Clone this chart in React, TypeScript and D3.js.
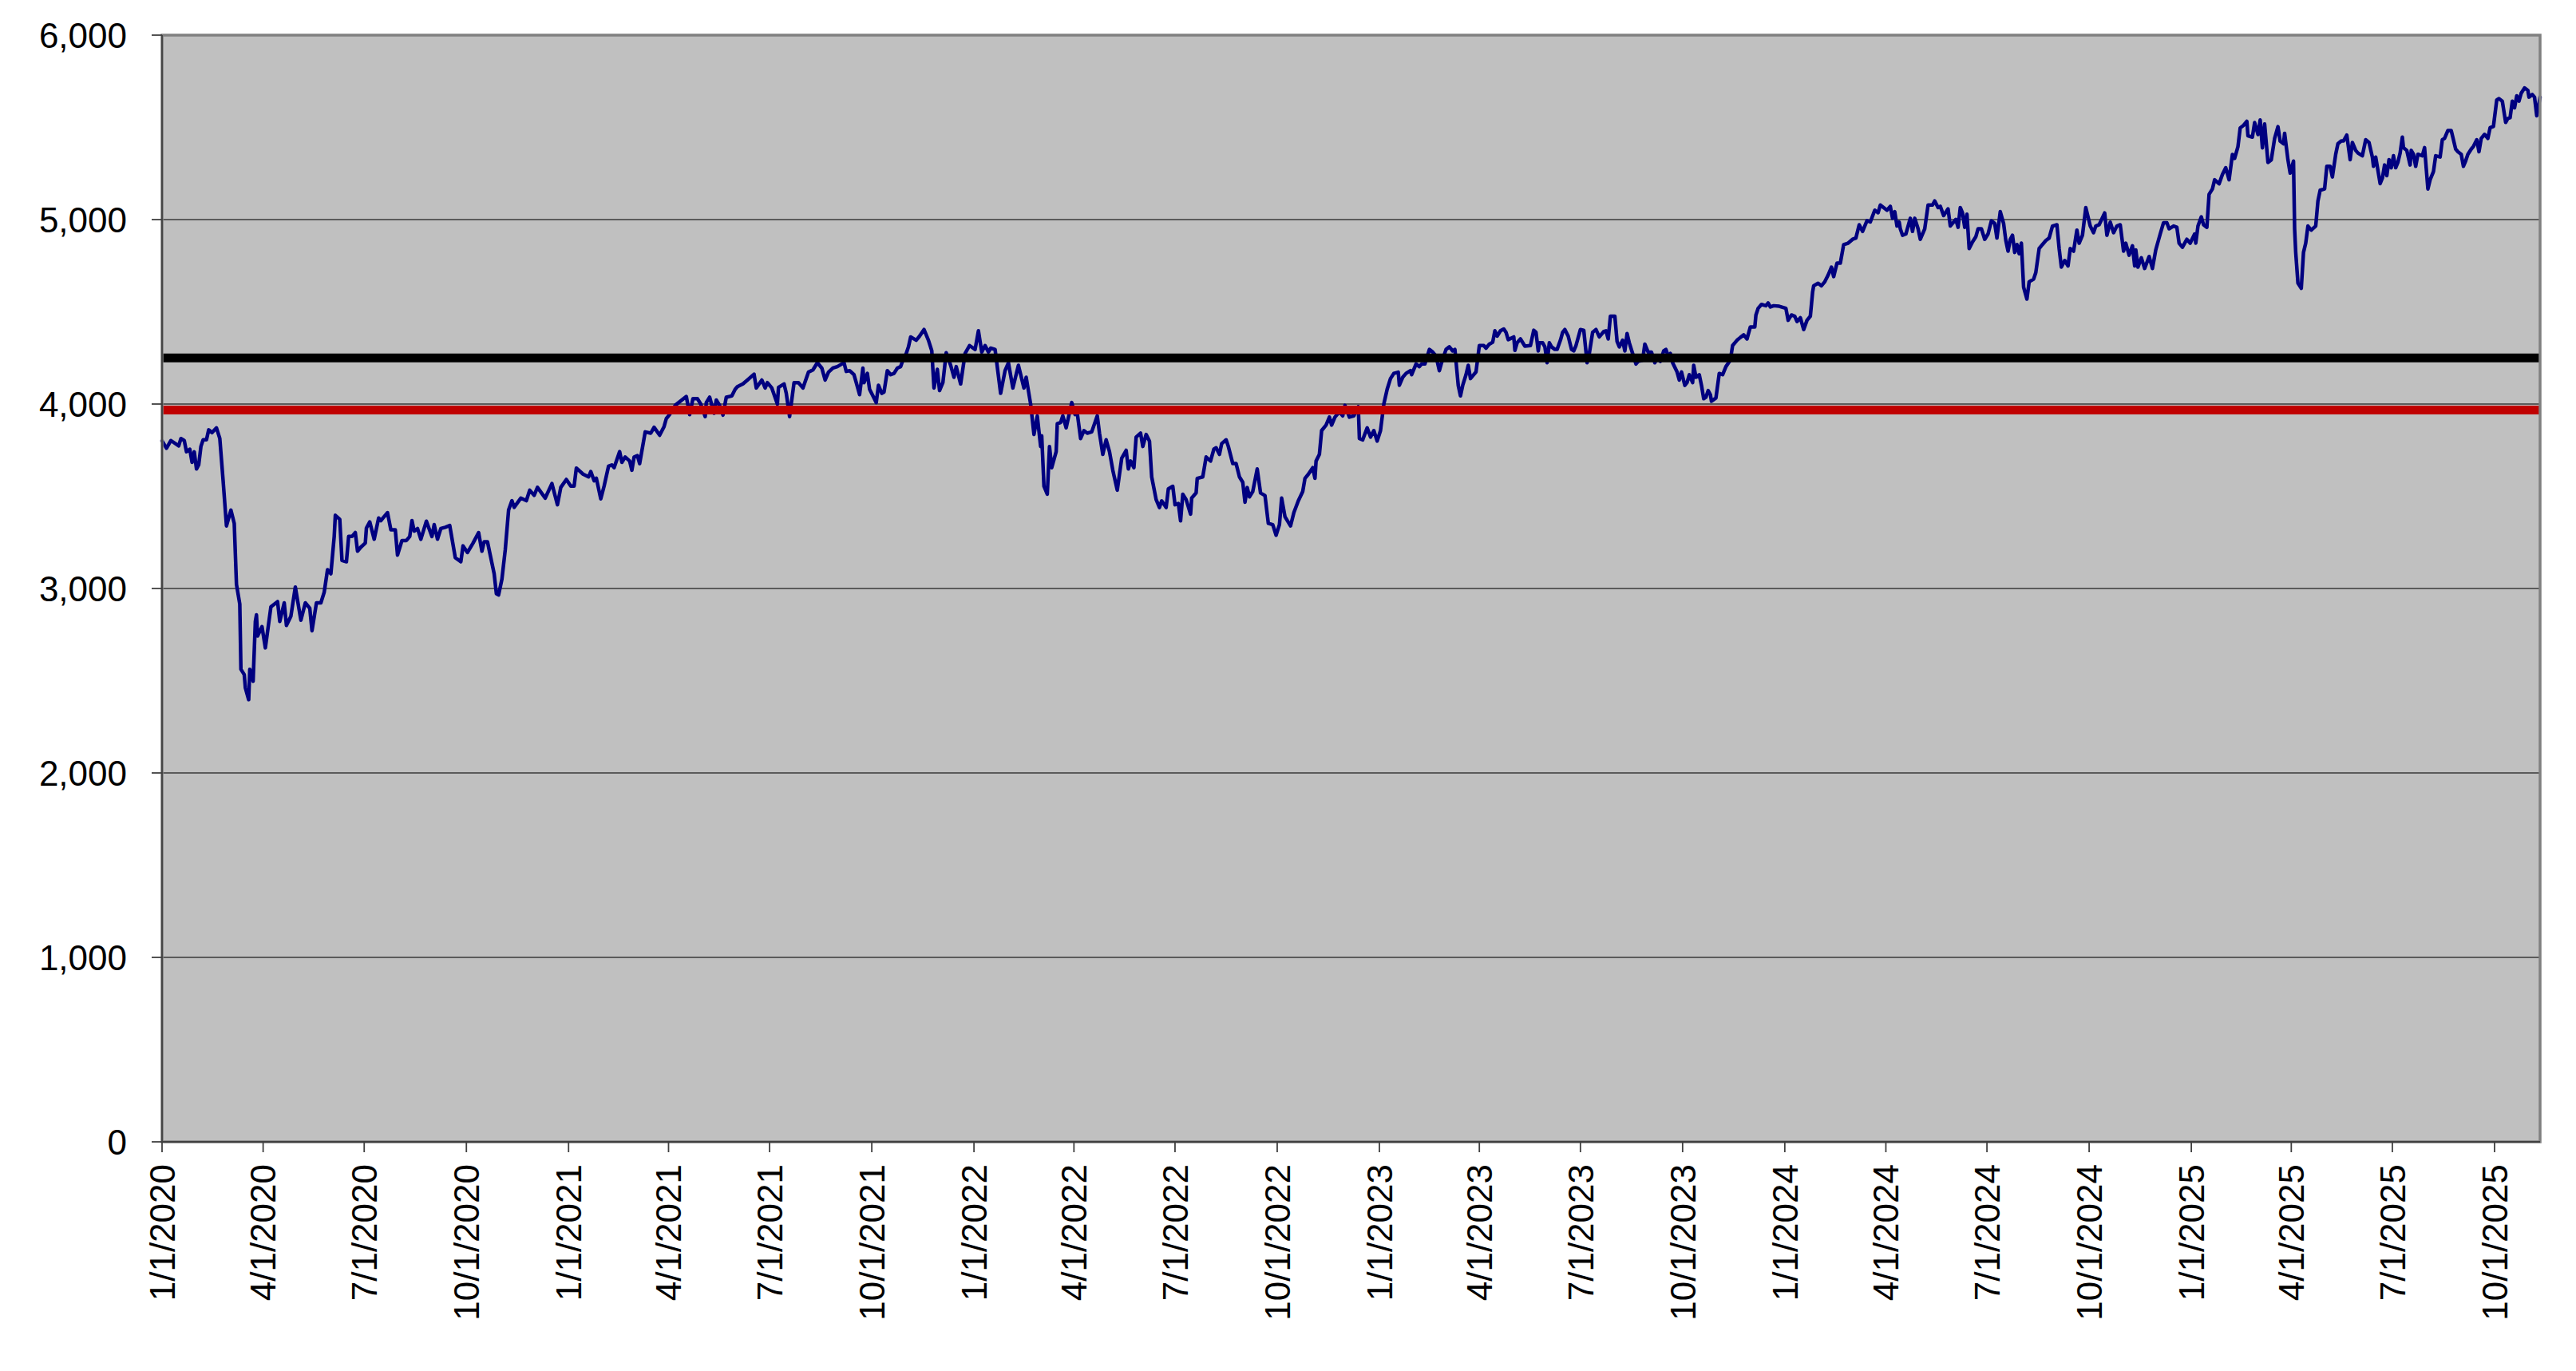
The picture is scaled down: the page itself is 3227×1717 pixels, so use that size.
import React from "react";
import * as d3 from "d3";

// Day offsets from 1/1/2020 for each observation, and the index values
const DAY_OFFSETS: number[] = [
  0,4,8,15,17,20,22,25,27,29,
  31,33,35,37,40,42,45,49,52,55,
  58,62,65,67,70,71,74,75,78,79,
  82,84,85,86,90,93,98,104,106,110,
  112,116,120,125,129,133,135,139,143,146,
  149,152,155,156,160,162,166,168,171,174,
  176,179,183,184,187,191,195,197,200,203,
  206,210,212,216,220,223,225,227,230,233,
  238,243,245,248,251,255,259,264,269,271,
  275,280,285,288,290,293,295,299,301,303,
  306,309,312,315,317,323,328,331,335,338,
  345,351,356,359,364,368,371,373,379,
  384,386,389,391,395,398,402,405,407,412,
  414,417,421,423,425,428,430,435,440,443,
  448,452,454,457,462,472,475,478,482,485,
  489,490,493,497,499,502,505,508,513,516,
  518,523,527,533,535,540,543,545,549,554,
  555,560,562,565,569,573,577,582,586,590,
  594,597,600,604,608,612,614,616,619,623,
  625,628,631,632,635,637,640,643,645,648,
  650,653,656,659,662,665,667,670,672,674,
  679,682,686,690,693,695,698,700,703,706,
  710,713,715,719,723,727,732,735,738,741,
  744,746,750,755,759,762,766,771,
  776,778,782,785,788,791,792,794,797,799,
  801,805,806,809,811,814,819,822,824,827,
  830,833,837,842,844,847,850,853,856,860,
  862,864,868,870,872,875,877,881,883,886,
  889,891,895,898,900,904,906,910,912,915,
  917,919,922,926,927,931,932,937,940,944,
  947,949,952,954,958,960,964,967,970,973,
  975,977,979,982,986,989,993,996,1000,1003,
  1006,1008,1011,1016,1019,1023,1027,1029,1032,1036,
  1038,1039,1042,1044,1048,1051,1053,1056,1060,1063,
  1065,1069,1073,1077,1078,1081,1085,1088,1091,1094,
  1097,1100,1103,1106,1109,1113,1114,1117,1120,1124,
  1125,1129,1132,1134,1137,1141,1144,1147,1150,1152,
  1156,
  1159,1162,1164,1167,1169,1171,1174,1176,1178,1183,
  1186,1190,1192,1195,1198,1200,1202,1205,1208,1210,
  1212,1217,1218,1220,1223,1227,1232,1235,1237,1239,
  1240,1243,1245,1247,1249,1251,1254,1256,1259,1261,
  1263,1266,1269,1271,1273,1277,1280,1283,1285,1288,
  1291,1294,1298,1300,1302,1304,1308,1310,1312,1315,
  1317,1319,1321,1324,1327,1329,1333,1335,1338,1341,
  1344,1347,1349,1352,1354,1356,1358,1360,1364,1366,
  1368,1371,1373,1375,1378,1379,1381,1384,1386,1388,
  1390,1392,1394,1395,1399,1402,1405,1408,1412,1414,
  1418,1421,1424,1427,1430,1434,1435,1437,1440,1444,
  1446,1448,1451,1456,1462,1464,1467,1470,1472,1475,
  1478,1481,1484,1486,1487,1491,1494,1497,1500,1503,
  1505,1508,1511,1514,1518,1522,1525,1528,1531,1535,
  1538,1542,1545,
  1547,1550,1553,1556,1558,1560,1562,1564,1565,1567,
  1570,1574,1576,1578,1581,1583,1587,1590,1594,1596,
  1599,1601,1604,1608,1610,1615,1617,1619,1621,1623,
  1625,1627,1630,1633,1635,1638,1641,1644,1647,1650,
  1652,1655,1658,1660,1662,1664,1666,1668,1670,1672,
  1674,1676,1679,1681,1685,1687,1690,1693,1696,1699,
  1702,1706,1708,1710,1713,1716,1718,1721,1724,1726,
  1729,1732,1736,1739,1741,1744,1749,1751,1754,1757,
  1760,1763,1766,1768,1771,1774,1776,1777,1779,1782,
  1785,1789,1792,1795,1799,1802,1805,1807,1811,1814,
  1816,1819,1823,1826,1830,1831,1833,1836,1838,1841,
  1843,1846,1848,1852,1855,1858,1861,1864,1866,1869,
  1871,1874,1877,1878,1882,1884,1887,1889,1891,1893,
  1896,1899,1902,1905,1907,1910,1911,1914,1916,1919,
  1920,1921,1923,1926,1928,1930,1932,1935,1939,1941,
  1943,1947,
  1949,1952,1954,1957,1959,1962,1964,1967,1970,1972,
  1975,1977,1981,1984,1987,1990,1991,1993,1997,1999,
  2001,2003,2005,2007,2009,2011,2013,2015,2017,2018,
  2021,2024,2025,2027,2029,2031,2035,2037,2040,2042,
  2045,2047,2051,2053,2055,2058,2061,2063,2065,2067,
  2070,2072,2074,2076,2079,2081,2084,2086,2088,2091,
  2094,2096,2099,2102,2104,2107,2110,2112,2114,2116,
  2118,2120,2122,2124,2127,2130,2131,2134,2136,2138,
  2140,2141,
];

const VALUES: number[] = [
  3800,3760,3802,3773,3813,3802,3741,3755,3684,3741,
  3648,3670,3770,3806,3806,3860,3845,3871,3813,3583,
  3339,3425,3353,3022,2915,2562,2533,2462,2397,2562,
  2497,2821,2857,2742,2793,2678,2900,2929,2821,2922,
  2800,2850,3008,2828,2922,2893,2771,2922,2922,2980,
  3102,3080,3282,3397,3375,3152,3145,3282,3282,3303,
  3202,3224,3246,3328,3361,3267,3382,3368,3390,3411,
  3318,3318,3181,3260,3260,3282,3368,3311,3325,3267,
  3365,3282,3346,3267,3325,3332,3342,3167,3145,3231,
  3195,3246,3303,3202,3253,3253,3195,3080,2972,2965,
  3051,3210,3425,3476,3440,3490,3476,3533,3505,3548,
  3490,3569,3454,3548,3591,3555,3555,3653,3620,
  3605,3634,3584,3598,3486,3555,3663,3670,3655,3742,
  3684,3713,3691,3641,3713,3720,3677,3849,3842,3874,
  3831,3878,3921,3943,3993,4041,3943,4029,4029,4000,
  3932,4008,4037,3950,4022,3993,3940,4037,4044,4080,
  4094,4109,4130,4162,4087,4130,4087,4116,4087,4000,
  4090,4109,4058,3932,4116,4116,4087,4173,4185,4224,
  4195,4130,4173,4195,4203,4217,4224,4177,4181,4159,
  4116,4051,4195,4116,4166,4080,4044,4008,4102,4058,
  4065,4181,4159,4166,4195,4203,4238,4274,4310,4364,
  4346,4368,4404,4346,4289,4087,4188,4073,4116,4278,
  4210,4145,4203,4109,4274,4317,4296,4397,4282,4317,
  4282,4303,4296,4058,4181,4224,4087,4210,
  4087,4145,4000,3835,3935,3770,3828,3555,3511,3770,
  3655,3742,3893,3900,3936,3871,4008,3943,3950,3813,
  3856,3842,3849,3936,3842,3727,3806,3742,3641,3533,
  3619,3706,3749,3648,3691,3655,3821,3842,3770,3835,
  3799,3605,3482,3439,3475,3439,3540,3554,3454,3461,
  3367,3511,3482,3403,3490,3518,3597,3605,3713,3691,
  3756,3763,3727,3785,3806,3770,3677,3677,3605,3576,
  3468,3547,3497,3526,3648,3518,3504,3353,3346,3289,
  3346,3490,3389,3339,3411,3475,3526,3597,3619,3655,
  3597,3691,3727,3856,3886,3929,3886,3929,3958,3936,
  3993,3929,3936,3986,3813,3806,3871,3821,3856,3799,
  3856,4000,4080,4138,4166,4173,4102,4145,4166,4181,
  4159,4217,4203,4217,4217,4296,4282,4260,4181,4224,
  4296,
  4310,4288,4296,4101,4044,4101,4159,4210,4138,4174,
  4317,4317,4303,4325,4335,4397,4368,4397,4407,4389,
  4349,4364,4291,4332,4353,4314,4317,4400,4389,4288,
  4332,4332,4310,4224,4332,4310,4296,4296,4346,4389,
  4404,4368,4296,4288,4317,4404,4400,4224,4274,4389,
  4404,4364,4393,4397,4353,4476,4476,4339,4310,4346,
  4288,4382,4332,4274,4217,4231,4238,4325,4281,4281,
  4224,4260,4231,4288,4296,4260,4274,4224,4174,4130,
  4174,4101,4116,4159,4116,4210,4145,4159,4101,4029,
  4037,4073,4051,4015,4033,4166,4159,4203,4238,4317,
  4346,4361,4375,4353,4418,4418,4483,4519,4540,4533,
  4548,4526,4533,4530,4519,4454,4483,4476,4447,4468,
  4404,4454,4476,4605,4641,4655,4641,4663,4699,4742,
  4691,4764,4764,4864,4872,4893,4900,4972,4936,4994,
  4987,5051,5037,
  5079,5065,5051,5072,5007,5043,4965,4986,4950,4915,
  4922,5007,4936,5007,4950,4893,4950,5079,5079,5101,
  5065,5072,5022,5058,4965,5001,4958,5065,5036,4958,
  5029,4843,4879,4907,4950,4950,4893,4922,4993,4979,
  4900,5043,4979,4886,4829,4893,4915,4822,4865,4815,
  4872,4634,4569,4663,4677,4713,4843,4865,4886,4900,
  4965,4972,4843,4742,4778,4749,4843,4829,4943,4872,
  4915,5065,4965,4929,4965,4972,5036,4915,4986,4929,
  4965,4972,4829,4872,4807,4858,4749,4836,4742,4793,
  4735,4800,4735,4836,4922,4983,4983,4950,4965,4958,
  4872,4850,4893,4872,4922,4872,4965,5015,4972,4958,
  5137,5166,5216,5194,5245,5281,5216,5353,5332,5396,
  5497,5511,5533,5454,5447,5526,5461,5540,5389,5518,
  5310,5324,5440,5504,5425,5411,5468,5324,5252,5317,
  4950,4822,4656,4627,4822,4872,4965,4943,4965,5101,
  5159,5166,
  5289,5289,5231,5354,5411,5426,5426,5458,5325,5418,
  5375,5361,5346,5433,5418,5339,5289,5339,5195,5224,
  5296,5238,5325,5281,5346,5281,5310,5361,5447,5390,
  5375,5296,5375,5354,5289,5354,5346,5390,5166,5216,
  5260,5346,5339,5433,5440,5483,5483,5433,5382,5368,
  5354,5289,5318,5354,5382,5397,5433,5368,5440,5462,
  5440,5498,5505,5649,5656,5642,5527,5548,5552,5642,
  5606,5671,5642,5685,5714,5700,5664,5678,5664,5563,
  5628,5664,
];

const START_DATE = "1/1/2020";
const END_OFFSET = 2141;

const X_TICK_LABELS = [
  "1/1/2020", "4/1/2020", "7/1/2020", "10/1/2020",
  "1/1/2021", "4/1/2021", "7/1/2021", "10/1/2021",
  "1/1/2022", "4/1/2022", "7/1/2022", "10/1/2022",
  "1/1/2023", "4/1/2023", "7/1/2023", "10/1/2023",
  "1/1/2024", "4/1/2024", "7/1/2024", "10/1/2024",
  "1/1/2025", "4/1/2025", "7/1/2025", "10/1/2025",
];
const Y_TICKS = [0, 1000, 2000, 3000, 4000, 5000, 6000];
const Y_DOMAIN = [0, 6000];

const BLACK_LEVEL = 4250;
const RED_LEVEL = 3968;

export default function App() {
  const W = 3227;
  const H = 1717;
  const left = 203, right = 3182, top = 44, bottom = 1430;
  const font = "'Liberation Sans', Arial, Helvetica, sans-serif";

  const parse = d3.timeParse("%m/%d/%Y");
  const start = parse(START_DATE) as Date;
  const x = d3
    .scaleTime()
    .domain([start, d3.timeDay.offset(start, END_OFFSET)])
    .range([left, right]);
  const y = d3.scaleLinear().domain(Y_DOMAIN).range([bottom, top]);

  const pts: [number, number][] = DAY_OFFSETS.map((d, i) => [
    x(d3.timeDay.offset(start, d)),
    y(VALUES[i]),
  ]);
  const path = d3.line()(pts) || "";
  const fmt = d3.format(",");

  return (
    <svg
      width={W}
      height={H}
      style={{ position: "absolute", left: 0, top: 0, background: "#ffffff" }}
    >
      <rect x={0} y={0} width={W} height={H} fill="#ffffff" />
      <rect x={left} y={top} width={right - left} height={bottom - top} fill="#C0C0C0" />
      {Y_TICKS.filter((t) => t > 0 && t < 6000).map((t) => (
        <line key={"g" + t} x1={left} x2={right} y1={y(t)} y2={y(t)} stroke="#3a3a3a" strokeWidth={1.6} />
      ))}
      <path d={path} fill="none" stroke="#000080" strokeWidth={4.5} strokeLinejoin="round" strokeLinecap="round" />
      <line x1={left} x2={right} y1={y(BLACK_LEVEL)} y2={y(BLACK_LEVEL)} stroke="#000000" strokeWidth={11} />
      <line x1={left} x2={right} y1={y(RED_LEVEL)} y2={y(RED_LEVEL)} stroke="#C00000" strokeWidth={11} />
      <rect x={left} y={top} width={right - left} height={bottom - top} fill="none" stroke="#808080" strokeWidth={3.5} />
      <line x1={left} x2={left} y1={top} y2={bottom} stroke="#404040" strokeWidth={1.8} />
      <line x1={left} x2={right} y1={bottom} y2={bottom} stroke="#404040" strokeWidth={1.8} />
      {Y_TICKS.map((t) => (
        <g key={"y" + t}>
          <line x1={left - 13} x2={left} y1={y(t)} y2={y(t)} stroke="#404040" strokeWidth={1.8} />
          <text
            x={159}
            y={y(t)}
            dy="0.36em"
            textAnchor="end"
            fontFamily={font}
            fontSize={44}
            fill="#000000"
          >
            {fmt(t)}
          </text>
        </g>
      ))}
      {X_TICK_LABELS.map((lab) => {
        const tx = x(parse(lab) as Date);
        return (
          <g key={"x" + lab}>
            <line x1={tx} x2={tx} y1={bottom} y2={bottom + 13} stroke="#404040" strokeWidth={1.8} />
            <text
              transform={`translate(${tx},${1458}) rotate(-90)`}
              dy="0.36em"
              textAnchor="end"
              fontFamily={font}
              fontSize={44}
              fill="#000000"
            >
              {lab}
            </text>
          </g>
        );
      })}
    </svg>
  );
}
